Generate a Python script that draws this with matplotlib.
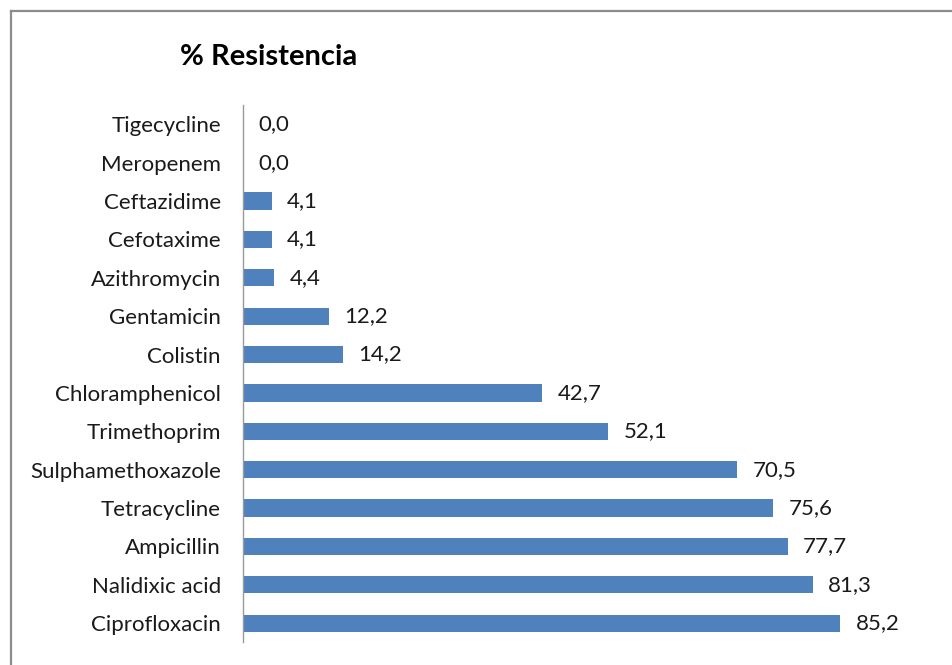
import matplotlib.pyplot as plt
from matplotlib.lines import Line2D

farmacos = ['Tigecycline', 'Meropenem', 'Ceftazidime', 'Cefotaxime', 'Azithromycin',
            'Gentamicin', 'Colistin', 'Chloramphenicol', 'Trimethoprim',
            'Sulphamethoxazole', 'Tetracycline', 'Ampicillin', 'Nalidixic acid',
            'Ciprofloxacin']
resistencia = [0.0, 0.0, 4.1, 4.1, 4.4, 12.2, 14.2, 42.7, 52.1, 70.5, 75.6, 77.7, 81.3, 85.2]

plt.rcParams['font.family'] = ['Lato', 'DejaVu Sans']

fig = plt.figure(figsize=(9.53, 6.65), dpi=100)
ax = fig.add_axes([0.255, 0.034, 0.7355, 0.808])

pos = list(range(len(farmacos)))
ax.barh(pos, resistencia, height=0.45, color='#4F81BD')
ax.set_ylim(len(farmacos) - 0.5, -0.5)
ax.set_xlim(0, 100)
ax.set_yticks(pos)
ax.set_yticklabels(farmacos, fontsize=16, color='#1a1a1a')
ax.tick_params(axis='y', length=0, pad=16)
ax.set_xticks([])

for s in ['top', 'right', 'bottom']:
    ax.spines[s].set_visible(False)
ax.spines['left'].set_color('#999999')
ax.spines['left'].set_linewidth(1)

for p, v in zip(pos, resistencia):
    ax.text(v + 2.2, p, f'{v:.1f}'.replace('.', ','), va='center', ha='left',
            fontsize=16, color='#1a1a1a')

fig.text(0.189, 0.915, '% Resistencia', fontsize=21, fontweight='bold',
         ha='left', va='center', color='black')

# borde gris (arriba e izquierda)
fig.add_artist(Line2D([0.0115, 0.0115], [0, 0.984], transform=fig.transFigure,
                      color='#8c8c8c', linewidth=1.6))
fig.add_artist(Line2D([0.0115, 1], [0.984, 0.984], transform=fig.transFigure,
                      color='#8c8c8c', linewidth=1.6))

fig.savefig('out.png', dpi=100)
